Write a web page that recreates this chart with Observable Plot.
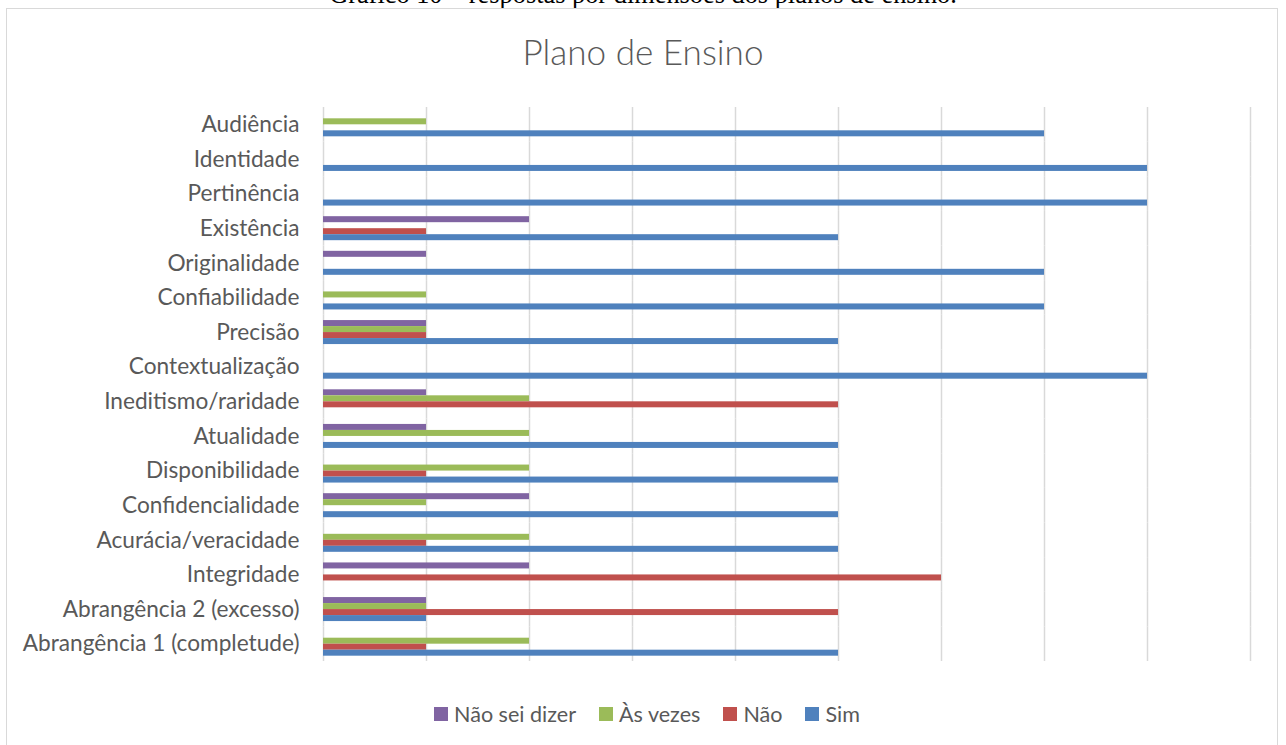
<!DOCTYPE html>
<html>
<head>
<meta charset="utf-8">
<script src="https://cdn.jsdelivr.net/npm/d3@7"></script>
<script src="https://cdn.jsdelivr.net/npm/@observablehq/plot@0.6"></script>
<style>
  body { margin: 0; background: #fff; }
  #wrap { position: relative; width: 1286px; height: 745px; overflow: hidden; background: #fff; }
  #caption { position: absolute; left: 0; width: 1286px; text-align: center; font-family: "Liberation Serif", serif; color: #000; line-height: 1; white-space: nowrap; }
  #frame { position: absolute; left: 6px; top: 8px; width: 1272px; height: 745px; border: 1.5px solid #d9d9d9; box-sizing: border-box; }
  #title { position: absolute; left: 0; width: 1286px; text-align: center; font-family: Lato, sans-serif; font-weight: 300; color: #595959; line-height: 1; white-space: nowrap; }
  #chart { position: absolute; left: 0; top: 97px; }
  #legend { position: absolute; left: 0; width: 1294px; top: 704px; height: 20px; display: flex; justify-content: center; align-items: center; gap: 23px; font-family: Lato, sans-serif; color: #595959; }
  .item { display: flex; align-items: center; gap: 6px; white-space: nowrap; }
  .sw { width: 14px; height: 14px; display: inline-block; }
</style>
</head>
<body>
<div id="wrap">
  <div id="caption">Gráfico 10 – respostas por dimensões dos planos de ensino.</div>
  <div id="frame"></div>
  <div id="title">Plano de Ensino</div>
  <div id="chart"></div>
  <div id="legend"></div>
</div>
<script>
const categories = ["Audiência","Identidade","Pertinência","Existência","Originalidade","Confiabilidade","Precisão","Contextualização","Ineditismo/raridade","Atualidade","Disponibilidade","Confidencialidade","Acurácia/veracidade","Integridade","Abrangência 2 (excesso)","Abrangência 1 (completude)"];
const series = ["Não sei dizer","Às vezes","Não","Sim"];
const colors = ["#8064a2","#9bbb59","#c0504d","#4f81bd"];
const naoSeiDizer = [0,0,0,2,1,0,1,0,1,1,0,2,0,2,1,0];
const asVezes     = [1,0,0,0,0,1,1,0,2,2,2,1,2,0,1,2];
const nao         = [0,0,0,1,0,0,1,0,5,0,1,0,1,6,5,1];
const sim         = [7,8,8,5,7,7,5,8,0,5,5,5,5,0,1,5];
const gridTicks = [0,1,2,3,4,5,6,7,8,9];

const valuesBySeries = [naoSeiDizer, asVezes, nao, sim];
const data = [];
categories.forEach((c, i) => {
  series.forEach((s, j) => {
    const v = valuesBySeries[j][i];
    if (v > 0) data.push({category: c, series: s, value: v});
  });
});

function fit(text, target, family, weight) {
  const ctx = document.createElement("canvas").getContext("2d");
  ctx.font = `${weight} 100px ${family}`;
  return 100 * target / ctx.measureText(text).width;
}

// caption
const capFs = fit("Gráfico 10 – respostas por dimensões dos planos de ensino.", 628, "'Liberation Serif'", "400");
const cap = document.getElementById("caption");
cap.style.fontSize = capFs + "px";
cap.style.top = (4 - 0.837 * capFs) + "px";

// title
const titleFs = fit("Plano de Ensino", 241, "Lato", "300");
const title = document.getElementById("title");
title.style.fontSize = titleFs + "px";
title.style.top = (65 - 0.887 * titleFs) + "px";

const labelFs = fit("Abrangência 1 (completude)", 277, "Lato", "400");
const legendFs = fit("Não sei dizer", 122, "Lato", "400");

const chart = Plot.plot({
  width: 1286,
  height: 574,
  marginTop: 10,
  marginBottom: 10,
  marginLeft: 323,
  marginRight: 36,
  style: {fontFamily: "Lato, sans-serif", fontSize: labelFs + "px", color: "#595959", background: "transparent"},
  x: {domain: [0, 9], axis: null},
  y: {domain: series, axis: null, paddingInner: 0, paddingOuter: 0.885, round: false},
  fy: {domain: categories, padding: 0, round: false, label: null, axis: "left", tickSize: 0, tickPadding: 24},
  color: {domain: series, range: colors},
  marks: [
    Plot.ruleX(gridTicks, {stroke: "#d9d9d9", strokeWidth: 1.5}),
    Plot.barX(data, {x: "value", y: "series", fy: "category", fill: "series"})
  ]
});
document.getElementById("chart").appendChild(chart);

// legend
const legend = document.getElementById("legend");
legend.style.fontSize = legendFs + "px";
series.forEach((s, i) => {
  const item = document.createElement("div");
  item.className = "item";
  const sw = document.createElement("span");
  sw.className = "sw";
  sw.style.background = colors[i];
  const t = document.createElement("span");
  t.textContent = s;
  item.appendChild(sw);
  item.appendChild(t);
  legend.appendChild(item);
});
</script>
</body>
</html>
